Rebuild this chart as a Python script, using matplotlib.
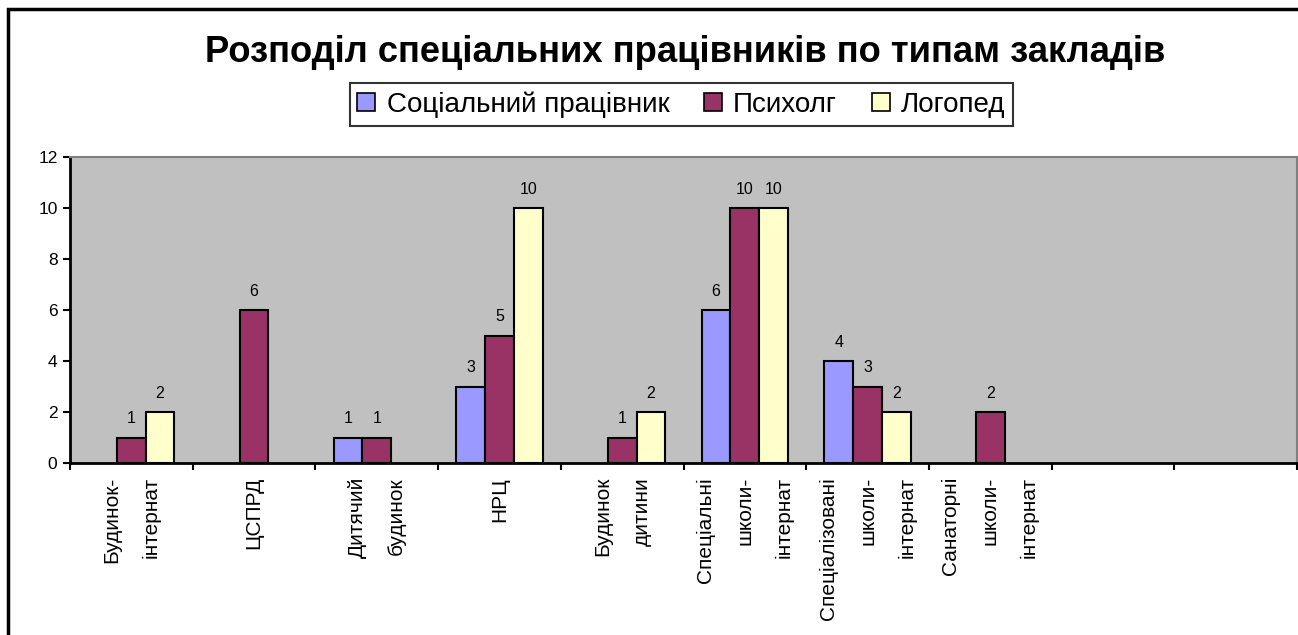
import numpy as np
import matplotlib
matplotlib.use("Agg")
from matplotlib import pyplot as plt
from matplotlib.patches import Patch, Rectangle

plt.rcParams["font.family"] = ["Liberation Sans", "DejaVu Sans"]

categories = [
    "Будинок-\nінтернат",
    "ЦСПРД",
    "Дитячий\nбудинок",
    "НРЦ",
    "Будинок\nдитини",
    "Спеціальні\nшколи-\nінтернат",
    "Спеціалізовані\nшколи-\nінтернат",
    "Санаторні\nшколи-\nінтернат",
    "",
    "",
]
series_names = ["Соціальний працівник", "Психолг", "Логопед"]
social = [0, 0, 1, 3, 0, 6, 4, 0, 0, 0]
psychologist = [1, 6, 1, 5, 1, 10, 3, 2, 0, 0]
speech = [2, 0, 0, 10, 2, 10, 2, 0, 0, 0]
colors = ["#9999FF", "#993366", "#FFFFCC"]

fig = plt.figure(figsize=(12.98, 6.35), dpi=100)
axis = fig.add_axes([70 / 1298, 1 - 463 / 635, 1227 / 1298, 306 / 635])
axis.set_facecolor("#C0C0C0")

n_cat = len(categories)
x = np.arange(n_cat)
bar_w = 0.234

for i, (values, color) in enumerate(zip([social, psychologist, speech], colors)):
    offs = (i - 1) * bar_w
    vals = np.array(values, dtype=float)
    mask = vals > 0
    axis.bar(x[mask] + offs, vals[mask], width=bar_w, color=color,
             edgecolor="black", linewidth=1.5, zorder=3)
    for xi, v in zip(x[mask] + offs, vals[mask]):
        axis.annotate(f"{int(v)}", (xi, v), xytext=(0, 8), textcoords="offset points",
                      ha="center", va="bottom", fontsize=11.5)

axis.set_xlim(-0.5, n_cat - 0.5)
axis.set_ylim(0, 12)
axis.set_yticks(range(0, 13, 2))
axis.tick_params(axis="y", direction="out", length=5, width=1.5, labelsize=12.5, pad=4)

# boundaries between categories get the tick marks, names sit in the middle
axis.set_xticks(np.arange(-0.5, n_cat, 1.0))
axis.set_xticklabels([])
axis.tick_params(axis="x", which="major", direction="out", length=5, width=1.5)
axis.set_xticks(x, minor=True)
axis.set_xticklabels(categories, minor=True, rotation=90, fontsize=15,
                     linespacing=2.35, multialignment="right")
axis.tick_params(axis="x", which="minor", length=0, pad=10)

for side in ["left", "bottom"]:
    axis.spines[side].set_linewidth(2)
    axis.spines[side].set_color("black")
for side in ["top", "right"]:
    axis.spines[side].set_linewidth(1.5)
    axis.spines[side].set_color("#808080")

fig.text(685 / 1298, 1 - 53 / 635, "Розподіл спеціальних працівників по типам закладів",
         ha="center", va="center", fontsize=26.2, fontweight="bold")

handles = [Patch(facecolor=c, edgecolor="black", linewidth=1.2) for c in colors]
leg = fig.legend(handles, series_names, loc="center", ncol=3,
                 bbox_to_anchor=(681.5 / 1298, 1 - 104.5 / 635), fontsize=20,
                 frameon=True, fancybox=False, edgecolor="black",
                 handlelength=0.65, handleheight=0.65, handletextpad=0.4,
                 columnspacing=1.25, borderpad=0.28, borderaxespad=0)
leg.get_frame().set_linewidth(1.5)

fig.patches.append(Rectangle((8 / 1298, -0.1), 1.1, 1.1 - 9 / 635,
                             transform=fig.transFigure, fill=False,
                             edgecolor="black", linewidth=2.5))

fig.savefig("out.png", dpi=100)
